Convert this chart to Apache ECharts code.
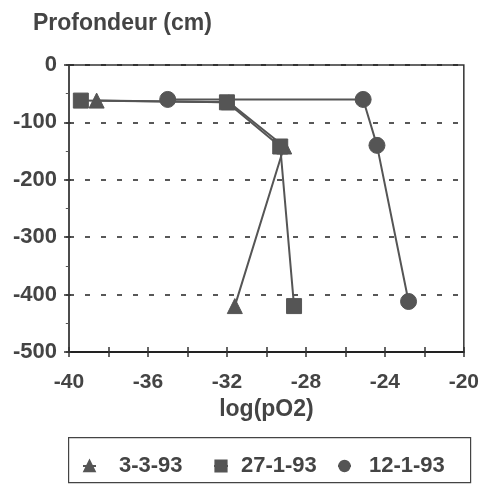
<!DOCTYPE html>
<html>
<head>
<meta charset="utf-8">
<script src="https://cdn.jsdelivr.net/npm/echarts@6/dist/echarts.min.js"></script>
<style>
  html, body { margin: 0; padding: 0; background: #fff; }
  #chart { width: 482px; height: 486px; }
</style>
</head>
<body>
<div id="chart"></div>
<script>
// Profils de log(pO2) en fonction de la profondeur
const seriesNames = ['3-3-93', '27-1-93', '12-1-93'];
const logPO2_3_3_93 = [-38.6, -31.9, -29.1, -31.6];
const depth_3_3_93 = [-62, -65, -142, -420];
const logPO2_27_1_93 = [-39.4, -32.0, -29.3, -28.6];
const depth_27_1_93 = [-62, -65, -142, -420];
const logPO2_12_1_93 = [-35.0, -25.1, -24.4, -22.8];
const depth_12_1_93 = [-60, -60, -140, -412];
const xTicks = [-40, -36, -32, -28, -24, -20];
const yTicks = [0, -100, -200, -300, -400, -500];

const pairs = (xs, ys) => xs.map((x, i) => [x, ys[i]]);
const ink = '#555';
const textColor = '#444';
const font = 'Liberation Sans, Arial, sans-serif';

// plot box, in pixels
const G = { left: 69, right: 15, top: 65, bottom: 134 };
const plotW = 482 - G.left - G.right;
const plotH = 486 - G.top - G.bottom;

const chart = echarts.init(document.getElementById('chart'), null, { renderer: 'canvas' });

const baseSeries = (name, data, symbol, size) => ({
  name, type: 'line', data, symbol, symbolSize: size,
  lineStyle: { color: ink, width: 2 },
  itemStyle: { color: ink, borderColor: ink, borderWidth: 1, opacity: 1 },
  emphasis: { disabled: true },
  animation: false, z: 3
});

// one legend block per entry so each keeps its own spacing
const legendAt = (name, left, size, gap) => ({
  data: [name], left, top: 455, padding: 0, itemWidth: size, itemHeight: size,
  textStyle: {
    fontFamily: font, fontSize: 22, fontWeight: 'bold', color: textColor,
    padding: [0, 0, 0, gap]
  },
  selectedMode: false
});

const crossTick = { show: true, inside: false, length: 5, lineStyle: { color: '#333', width: 1.5 } };
const minorTick = { show: true, splitNumber: 2, length: 3, lineStyle: { color: '#555', width: 1 } };

chart.setOption({
  animation: false,
  backgroundColor: '#fff',
  title: {
    text: 'Profondeur (cm)', left: 28, top: 7,
    textStyle: { fontFamily: font, fontSize: 23, fontWeight: 'bold', color: textColor }
  },
  grid: Object.assign({ show: true, borderColor: '#333', borderWidth: 1.5 }, G),
  legend: [
    legendAt(seriesNames[0], 82, 13, 18),
    legendAt(seriesNames[1], 213, 14, 8),
    legendAt(seriesNames[2], 337, 13, 13)
  ],
  graphic: [{
    type: 'rect', left: 68, top: 437, z: -1,
    shape: { width: 402, height: 45 },
    style: { fill: '#fff', stroke: '#444', lineWidth: 1.2 }
  }],
  xAxis: [{
    type: 'value', min: -40, max: -20, interval: 2,
    name: 'log(pO2)', nameLocation: 'middle', nameGap: 46,
    nameTextStyle: { fontFamily: font, fontSize: 23, fontWeight: 'bold', color: textColor },
    axisLine: { onZero: false, lineStyle: { color: '#222', width: 2 } },
    axisTick: crossTick,
    axisLabel: {
      fontFamily: font, fontSize: 21, fontWeight: 'bold', color: textColor, margin: 20,
      formatter: v => (xTicks.indexOf(v) >= 0 ? String(v) : '')
    },
    splitLine: { show: false }
  }, {
    // upper half of the crossing ticks on the bottom axis
    type: 'value', min: -40, max: -20, interval: 2, position: 'top', offset: -plotH,
    axisLine: { show: false },
    axisTick: crossTick,
    axisLabel: { show: false },
    splitLine: { show: false }
  }],
  yAxis: [{
    type: 'value', min: -500, max: 0, interval: 100,
    axisLine: { onZero: false, lineStyle: { color: '#444', width: 1.5 } },
    axisTick: crossTick,
    minorTick,
    axisLabel: {
      fontFamily: font, fontSize: 22, fontWeight: 'bold', color: textColor, margin: 12,
      formatter: v => (yTicks.indexOf(v) >= 0 ? String(v) : '')
    },
    splitLine: { show: true, lineStyle: { color: '#222', width: 1.5, type: [5, 11] } }
  }, {
    // right half of the crossing ticks on the left axis
    type: 'value', min: -500, max: 0, interval: 100, position: 'right', offset: -plotW,
    axisLine: { show: false },
    axisTick: crossTick,
    minorTick,
    axisLabel: { show: false },
    splitLine: { show: false }
  }],
  series: [
    baseSeries(seriesNames[0], pairs(logPO2_3_3_93, depth_3_3_93), 'triangle', 15),
    baseSeries(seriesNames[1], pairs(logPO2_27_1_93, depth_27_1_93), 'rect', 15),
    baseSeries(seriesNames[2], pairs(logPO2_12_1_93, depth_12_1_93), 'circle', 16)
  ]
});
</script>
</body>
</html>
